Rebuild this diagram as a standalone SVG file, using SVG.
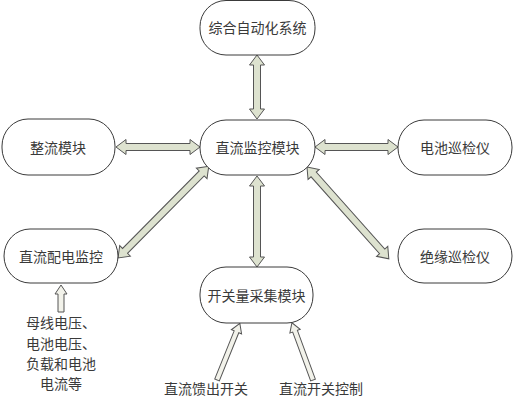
<svg xmlns="http://www.w3.org/2000/svg" width="514" height="401" viewBox="0 0 514 401">
<style>
.node rect{fill:#ffffff;stroke:#3a3a3a;stroke-width:1}
text{font-family:"Noto Sans CJK SC","Noto Sans",sans-serif;font-size:14px;fill:#3a3a3a;text-anchor:middle;dominant-baseline:central}
.dbl{fill:#dde2cf;stroke:#555555;stroke-width:1;stroke-linejoin:miter}
.sgl{fill:#f2f2ea;stroke:#555555;stroke-width:1}
</style>
<rect x="0" y="0" width="514" height="401" fill="#ffffff"/>
<g id="connectors">
<polygon class="dbl" transform="translate(257,55) rotate(90)" points="0,0 10,-7.5 10,-3.5 54,-3.5 54,-7.5 64,0 54,7.5 54,3.5 10,3.5 10,7.5"/>
<polygon class="dbl" transform="translate(116,147)" points="0,0 10,-7.5 10,-3.5 74,-3.5 74,-7.5 84,0 74,7.5 74,3.5 10,3.5 10,7.5"/>
<polygon class="dbl" transform="translate(315,147)" points="0,0 10,-7.5 10,-3.5 73,-3.5 73,-7.5 83,0 73,7.5 73,3.5 10,3.5 10,7.5"/>
<polygon class="dbl" transform="translate(257,176) rotate(90)" points="0,0 10,-7.5 10,-3.5 81,-3.5 81,-7.5 91,0 81,7.5 81,3.5 10,3.5 10,7.5"/>
<polygon class="dbl" transform="translate(118,258) rotate(-45.3)" points="0,0 10,-7.5 10,-3.5 119,-3.5 119,-7.5 129,0 119,7.5 119,3.5 10,3.5 10,7.5"/>
<polygon class="dbl" transform="translate(307,167) rotate(48.3)" points="0,0 10,-7.5 10,-3.5 113,-3.5 113,-7.5 123,0 113,7.5 113,3.5 10,3.5 10,7.5"/>
<polygon class="sgl" transform="translate(61,312) rotate(-90)" points="0,-3 18,-3 18,-6 27,0 18,6 18,3 0,3"/>
<polygon class="sgl" transform="translate(217,380) rotate(-68)" points="0,-2.5 52,-2.5 52,-5.5 61,0 52,5.5 52,2.5 0,2.5"/>
<polygon class="sgl" transform="translate(313,380) rotate(-110.2)" points="0,-2.5 52,-2.5 52,-5.5 61,0 52,5.5 52,2.5 0,2.5"/>
</g>
<g id="node-top" class="node"><rect x="200" y="0.5" width="115" height="54.5" rx="26" ry="26"/><text x="257.5" y="27">综合自动化系统</text></g>
<g id="node-rect" class="node"><rect x="2" y="119" width="113" height="56" rx="26" ry="27"/><text x="58" y="147">整流模块</text></g>
<g id="node-center" class="node"><rect x="200" y="120" width="115" height="55" rx="26" ry="27"/><text x="257.5" y="147">直流监控模块</text></g>
<g id="node-battery" class="node"><rect x="398" y="120" width="114" height="55" rx="26" ry="27"/><text x="455" y="147">电池巡检仪</text></g>
<g id="node-dist" class="node"><rect x="4" y="229" width="114" height="54" rx="26" ry="27"/><text x="61" y="256">直流配电监控</text></g>
<g id="node-switch" class="node"><rect x="200" y="267" width="113" height="56" rx="26" ry="27"/><text x="256.5" y="295">开关量采集模块</text></g>
<g id="node-insul" class="node"><rect x="398" y="229" width="114" height="54" rx="26" ry="27"/><text x="455" y="256">绝缘巡检仪</text></g>
<g id="labels">
<text x="61" y="322">母线电压、</text>
<text x="61" y="343">电池电压、</text>
<text x="61" y="363">负载和电池</text>
<text x="61" y="383">电流等</text>
<text x="206" y="388">直流馈出开关</text>
<text x="321" y="388">直流开关控制</text>
</g>
</svg>
